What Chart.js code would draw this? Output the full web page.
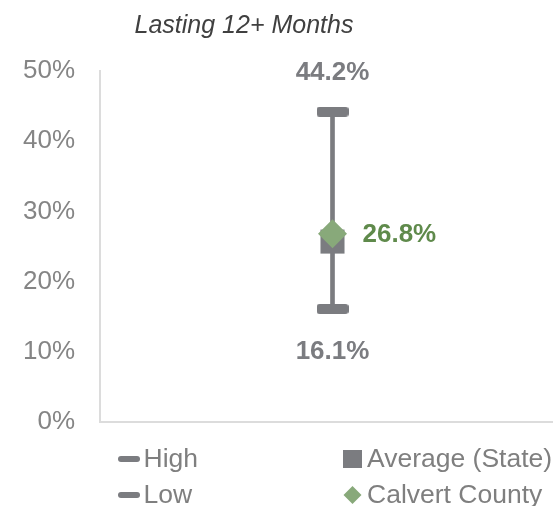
<!DOCTYPE html>
<html><head><meta charset="utf-8">
<script src="https://cdn.jsdelivr.net/npm/chart.js@4/dist/chart.umd.min.js"></script>
<style>
html,body{margin:0;padding:0;overflow:hidden;background:#fff}
#wrap{position:absolute;left:0;top:0;width:582px;height:506px}
</style>
</head><body><div id="wrap"><canvas id="c" width="582" height="506"></canvas></div>
<script>
const categories = ['Calvert County'];
const highValues = [44.2];
const lowValues = [16.1];
const averageValues = [25.7];
const countyValues = [26.8];
const yTickValues = [0, 10, 20, 30, 40, 50];
const seriesNames = ['High', 'Low', 'Average (State)', 'Calvert County'];
const titleText = 'Lasting 12+ Months';

const GRAY = '#7b7c80';
const GREEN_MARK = '#88a97a';
const GREEN_TEXT = '#5f8a4b';
const FONT = '"Liberation Sans", Arial, sans-serif';

function pill(w, h, r, color) {
  const c = document.createElement('canvas');
  c.width = w; c.height = h;
  const x = c.getContext('2d');
  x.fillStyle = color;
  x.beginPath();
  x.roundRect(0, 0, w, h, r);
  x.fill();
  return c;
}
const capImg = pill(32, 10, 3, GRAY);

const fmt = v => v.toFixed(1) + '%';

const overlay = {
  id: 'overlay',
  afterDraw(chart) {
    const ctx = chart.ctx;
    const xs = chart.scales.x, ys = chart.scales.y;
    ctx.save();
    // title
    ctx.font = 'italic 25px ' + FONT;
    ctx.fillStyle = '#404040';
    ctx.textAlign = 'center';
    ctx.textBaseline = 'middle';
    ctx.fillText(titleText, 244, 26);
    // data labels
    categories.forEach((c, i) => {
      const x = xs.getPixelForValue(i);
      ctx.font = 'bold 26px ' + FONT;
      ctx.textAlign = 'center';
      ctx.fillStyle = GRAY;
      ctx.fillText(fmt(highValues[i]), x, ys.getPixelForValue(highValues[i]) - 39);
      ctx.fillText(fmt(lowValues[i]), x, ys.getPixelForValue(lowValues[i]) + 43);
      ctx.textAlign = 'left';
      ctx.fillStyle = GREEN_TEXT;
      ctx.fillText(fmt(countyValues[i]), x + 30, ys.getPixelForValue(countyValues[i]) + 1);
    });
    // legend
    const cols = [129, 352.5];
    const rows = [459, 495];
    const items = [
      {name: seriesNames[0], col: 0, row: 0, kind: 'pill'},
      {name: seriesNames[1], col: 0, row: 1, kind: 'pill'},
      {name: seriesNames[2], col: 1, row: 0, kind: 'square'},
      {name: seriesNames[3], col: 1, row: 1, kind: 'diamond'}
    ];
    ctx.font = '26.5px ' + FONT;
    ctx.textAlign = 'left';
    ctx.textBaseline = 'middle';
    items.forEach(it => {
      const cx = cols[it.col], cy = rows[it.row];
      ctx.beginPath();
      if (it.kind === 'pill') {
        ctx.fillStyle = GRAY;
        ctx.roundRect(cx - 11, cy - 3, 22, 6, 3);
      } else if (it.kind === 'square') {
        ctx.fillStyle = GRAY;
        ctx.rect(cx - 9.5, cy - 9, 19, 18);
      } else {
        ctx.fillStyle = GREEN_MARK;
        ctx.moveTo(cx - 9, cy); ctx.lineTo(cx, cy - 9); ctx.lineTo(cx + 9, cy); ctx.lineTo(cx, cy + 9); ctx.closePath();
      }
      ctx.fill();
      ctx.fillStyle = '#7f7f7f';
      ctx.fillText(it.name, cx + 14.5, cy + 1);
    });
    ctx.restore();
  }
};

new Chart(document.getElementById('c'), {
  data: {
    labels: categories,
    datasets: [
      {
        type: 'bar', label: 'range',
        data: categories.map((c, i) => [lowValues[i], highValues[i]]),
        backgroundColor: GRAY, barThickness: 4, grouped: false, order: 4
      },
      {
        type: 'line', label: seriesNames[0], data: highValues, showLine: false,
        pointStyle: capImg, order: 3
      },
      {
        type: 'line', label: seriesNames[1], data: lowValues, showLine: false,
        pointStyle: capImg, order: 3
      },
      {
        type: 'line', label: seriesNames[2], data: averageValues, showLine: false,
        pointStyle: 'rect', pointRadius: 17, pointBackgroundColor: GRAY, pointBorderWidth: 0, order: 2
      },
      {
        type: 'line', label: seriesNames[3], data: countyValues, showLine: false,
        pointStyle: 'rectRot', pointRadius: 14.5, pointBackgroundColor: GREEN_MARK, pointBorderWidth: 0, order: 1
      }
    ]
  },
  options: {
    responsive: false,
    devicePixelRatio: 1,
    animation: false,
    layout: { padding: { left: 0, right: 0, top: 71, bottom: 84 } },
    plugins: { legend: { display: false }, tooltip: { enabled: false }, title: { display: false } },
    scales: {
      x: {
        type: 'category',
        grid: { display: false },
        border: { display: true, color: '#dcdcdc', width: 2 },
        ticks: { display: false },
        afterFit(s) { s.height = 0; }
      },
      y: {
        min: 0, max: 50,
        grid: { display: false },
        border: { display: true, color: '#dcdcdc', width: 2 },
        afterBuildTicks(s) { s.ticks = yTickValues.map(v => ({ value: v })); },
        ticks: {
          padding: 17,
          color: '#858585',
          font: { family: FONT, size: 26 },
          callback: v => v + '%'
        },
        afterFit(s) { s.width = 100; }
      }
    }
  },
  plugins: [overlay]
});
</script>
</body></html>
